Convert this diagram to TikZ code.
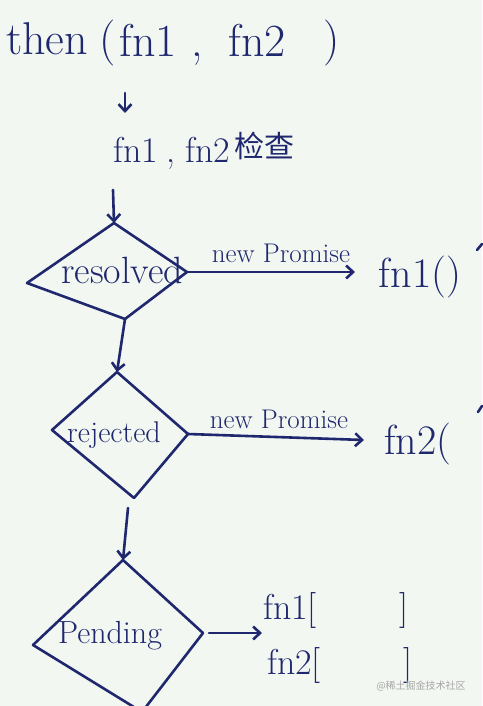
\documentclass[tikz,border=0pt]{standalone}
\usepackage{fontspec}
\newfontfamily\cjk{Noto Sans CJK SC}
\usetikzlibrary{arrows.meta}
\definecolor{bg}{HTML}{F2F7F1}
\definecolor{ink}{HTML}{1F276E}
\begin{document}
\begin{tikzpicture}[x=1pt,y=-1pt, line width=2.6pt, draw=ink, line cap=round, line join=round,
  txt/.style={inner sep=0pt, text=ink, anchor=base},
  big/.style={font=\fontsize{46}{48}\selectfont},
  mid/.style={font=\fontsize{36}{38}\selectfont},
  lab/.style={font=\fontsize{27}{29}\selectfont},
  arr/.style={draw=ink, -{Straight Barb[length=7pt,width=13pt]}},
  dia/.style={draw=ink}]
\fill[bg] (0,0) rectangle (482,706);
\useasboundingbox (0,0) rectangle (482,706);

% top line
\node[txt,big] (then) at (47,55) {then};
\node[txt,big] (lp) at (108,55) {(};
\node[txt,big] (f1) at (148,57) {fn1};
\node[txt,big] (cm) at (197,57) {,};
\node[txt,big] (f2) at (257,57) {fn2};
\node[txt,big] (rp) at (332,55) {)};

\coordinate (a1s) at (125,93);
\coordinate (a1e) at (125,113);
\draw[arr] (a1s) -- (a1e);

% second line
\node[txt,mid] (g1) at (136,162) {fn1};
\node[txt,mid] (gc) at (171,162) {,};
\node[txt,mid] (g2) at (208,162) {fn2};
\node[font=\cjk\fontsize{30}{32}\selectfont,text=ink,inner sep=0pt] (chk) at (264,146) {检查};

% diamond 1 resolved
\coordinate (d1t) at (114,223);
\coordinate (d1l) at (27,283);
\coordinate (d1b) at (125,319);
\coordinate (d1r) at (187,272);
\draw[dia] (d1t) -- (d1l) -- (d1b) -- (d1r) -- cycle;
\node[txt,font=\fontsize{38}{40}\selectfont] (res) at (122,283) {resolved};
\coordinate (a2s) at (113,190);
\draw[arr] (a2s) -- (d1t);

% arrow to fn1()
\node[txt,font=\fontsize{42}{44}\selectfont] (fn1call) at (420,287) {fn1()};
\coordinate (e1) at (355,272);
\draw[arr] (d1r) -- (e1);
\node[txt,lab] (np1) at (281,262) {new Promise};
\coordinate (m1a) at (477,250);
\coordinate (m1b) at (482,244);
\draw (m1a) -- (m1b);

% diamond 2 rejected
\coordinate (d2t) at (117,372);
\coordinate (d2l) at (52,430);
\coordinate (d2b) at (134,498);
\coordinate (d2r) at (188,434);
\draw[dia] (d2t) -- (d2l) -- (d2b) -- (d2r) -- cycle;
\node[txt,font=\fontsize{30}{32}\selectfont] (rej) at (114,442) {rejected};
\draw[arr] (d1b) -- (d2t);

\node[txt,font=\fontsize{42}{44}\selectfont] (fn2call) at (418,454) {fn2(};
\coordinate (e2) at (364,440);
\draw[arr] (d2r) -- (e2);
\node[txt,lab] (np2) at (279,428) {new Promise};
\coordinate (m2a) at (478,412);
\coordinate (m2b) at (482,406);
\draw (m2a) -- (m2b);

% diamond 3 pending
\coordinate (d3t) at (123,560);
\coordinate (d3l) at (33,645);
\coordinate (d3b) at (142,712);
\coordinate (d3r) at (203,633);
\draw[dia] (d3t) -- (d3l) -- (d3b) -- (d3r) -- cycle;
\node[txt,font=\fontsize{32}{34}\selectfont] (pen) at (110,643) {Pending};
\coordinate (d2bb) at (128,508);
\draw[arr] (d2bb) -- (d3t);

\node[txt,mid] (q1) at (290,619) {fn1[};
\node[txt,mid] (q1e) at (404,619) {]};
\node[txt,mid] (q2) at (294,674) {fn2[};
\node[txt,mid] (q2e) at (408,674) {]};
\coordinate (p3s) at (209,633);
\coordinate (p3e) at (262,633);
\draw[arr] (p3s) -- (p3e);

\node[txt,font=\cjk\fontsize{10}{12}\selectfont,text=black!35] (wm) at (421,689) {@稀土掘金技术社区};
\end{tikzpicture}
\end{document}
